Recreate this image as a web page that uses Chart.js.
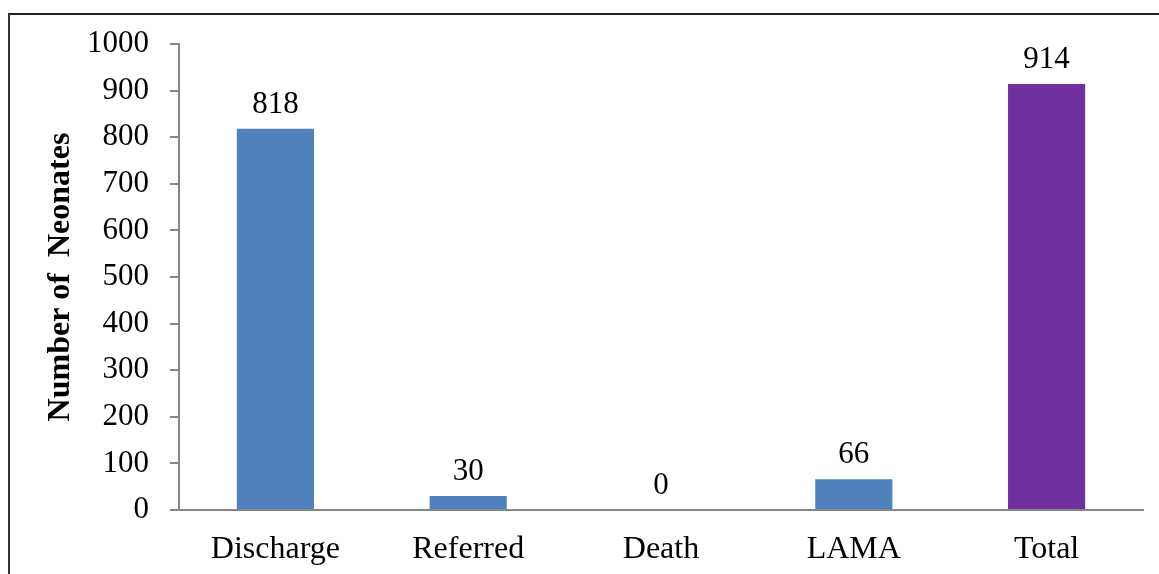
<!DOCTYPE html>
<html>
<head>
<meta charset="utf-8">
<script src="https://cdn.jsdelivr.net/npm/chart.js@4"></script>
<style>
  html, body { margin: 0; padding: 0; background: #fff; }
  #wrap { position: relative; width: 1159px; height: 574px; overflow: hidden; }
  #frame {
    position: absolute; left: 8px; top: 13px; width: 1160px; height: 600px;
    border-top: 2px solid #222; border-left: 2px solid #333; pointer-events: none;
  }
  canvas { position: absolute; left: 0; top: 0; }
</style>
</head>
<body>
<div id="wrap">
  <canvas id="chart" width="1159" height="574"></canvas>
  <div id="frame"></div>
</div>
<script>
const categories = ['Discharge', 'Referred', 'Death', 'LAMA', 'Total'];
const neonates = [818, 30, 0, 66, 914];
const barColors = ['#4F81BD', '#4F81BD', '#4F81BD', '#4F81BD', '#7030A0'];
const yTicks = [0, 100, 200, 300, 400, 500, 600, 700, 800, 900, 1000];

const serif = "'Liberation Serif', 'Times New Roman', serif";

// value labels above each bar
const valueLabels = {
    id: 'valueLabels',
    afterDatasetsDraw(chart) {
        const ctx = chart.ctx;
        const meta = chart.getDatasetMeta(0);
        ctx.save();
        ctx.font = `31px ${serif}`;
        ctx.fillStyle = '#000';
        ctx.textAlign = 'center';
        ctx.textBaseline = 'alphabetic';
        meta.data.forEach((bar, i) => {
            ctx.fillText(String(neonates[i]), bar.x, bar.y - 16);
        });
        ctx.restore();
    }
};

const ctx = document.getElementById('chart').getContext('2d');
new Chart(ctx, {
    type: 'bar',
    data: {
        labels: categories,
        datasets: [{
            data: neonates,
            backgroundColor: barColors,
            borderWidth: 0,
            categoryPercentage: 1,
            barPercentage: 0.4
        }]
    },
    options: {
        responsive: false,
        devicePixelRatio: 1,
        animation: false,
        layout: { padding: { top: 44, right: 16, left: 0, bottom: 0 } },
        plugins: {
            legend: { display: false },
            tooltip: { enabled: false }
        },
        scales: {
            x: {
                afterFit: s => { s.height = 64; },
                grid: { display: false, drawTicks: false },
                border: { display: true, color: '#868686', width: 2 },
                ticks: {
                    color: '#000',
                    font: { family: serif, size: 32 },
                    padding: 20,
                    maxRotation: 0
                }
            },
            y: {
                min: 0,
                max: 1000,
                afterBuildTicks: s => { s.ticks = yTicks.map(v => ({ value: v })); },
                afterFit: s => { s.width = 179; },
                grid: {
                    drawOnChartArea: false,
                    drawTicks: true,
                    tickLength: 9,
                    color: '#868686',
                    lineWidth: 2
                },
                border: { display: true, color: '#868686', width: 2 },
                ticks: {
                    color: '#000',
                    font: { family: serif, size: 31 },
                    padding: 21,
                    callback: v => String(v)
                },
                title: {
                    display: true,
                    text: 'Number of  Neonates',
                    color: '#000',
                    font: { family: serif, size: 32, weight: 'bold' },
                    padding: { top: 42, bottom: 0 }
                }
            }
        }
    },
    plugins: [valueLabels]
});
</script>
</body>
</html>
